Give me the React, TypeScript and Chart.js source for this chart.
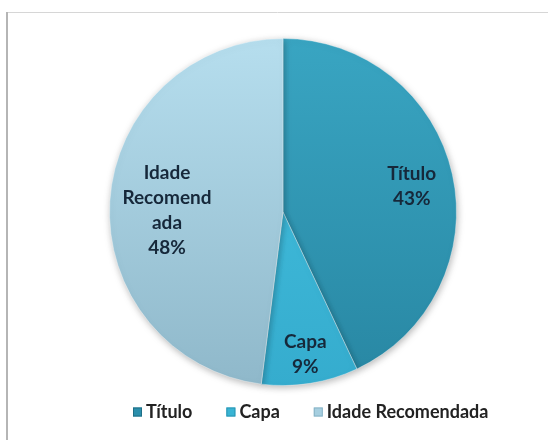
import React, { useEffect, useRef } from "react";
import { Chart, registerables } from "chart.js";

Chart.register(...registerables);

const categories = ["Título", "Capa", "Idade Recomendada"];
const values = [43, 9, 48];
const sliceLabelLines = [["Título"], ["Capa"], ["Idade", "Recomend", "ada"]];
const percentLabels = ["43%", "9%", "48%"];
const legendFill = ["#2b8fac", "#38b4d4", "#a6cfe0"];
const legendStroke = ["#1f6f86", "#2b95b3", "#88b3c6"];

const framePlugin = {
  id: "frame",
  beforeDraw(chart: any) {
    const ctx = chart.ctx;
    ctx.save();
    ctx.fillStyle = "#ffffff";
    ctx.fillRect(0, 0, chart.width, chart.height);
    ctx.lineWidth = 1;
    ctx.strokeStyle = "#d6d6d6";
    ctx.beginPath();
    ctx.moveTo(7, 12.5);
    ctx.lineTo(chart.width, 12.5);
    ctx.stroke();
    ctx.lineWidth = 2;
    ctx.strokeStyle = "#b5b5b5";
    ctx.beginPath();
    ctx.moveTo(7, chart.height);
    ctx.lineTo(7, 12);
    ctx.stroke();
    ctx.restore();
  },
};

const shadowPlugin = {
  id: "pieShadow",
  beforeDatasetsDraw(chart: any) {
    const ctx = chart.ctx;
    ctx.save();
    ctx.shadowColor = "rgba(0,0,0,0.28)";
    ctx.shadowBlur = 7;
    ctx.shadowOffsetX = 1;
    ctx.shadowOffsetY = 2;
  },
  afterDatasetsDraw(chart: any) {
    chart.ctx.restore();
  },
};

const labelPlugin = {
  id: "sliceLabels",
  afterDatasetsDraw(chart: any, _args: any, opts: any) {
    const ctx = chart.ctx;
    const meta = chart.getDatasetMeta(0);
    const fractions: number[] = opts.fractions;
    const offsets: number[] = opts.offsetsY;
    ctx.save();
    ctx.font = "bold 19px Lato";
    ctx.fillStyle = "#16283a";
    ctx.textAlign = "center";
    ctx.textBaseline = "middle";
    meta.data.forEach((arc: any, i: number) => {
      const p = arc.getProps(["x", "y", "startAngle", "endAngle", "outerRadius"], true);
      const mid = (p.startAngle + p.endAngle) / 2;
      const r = p.outerRadius * fractions[i];
      const cx = p.x + Math.cos(mid) * r;
      const cy = p.y + Math.sin(mid) * r + offsets[i];
      const lines = [...sliceLabelLines[i], percentLabels[i]];
      const lh = 25;
      const y0 = cy - ((lines.length - 1) * lh) / 2;
      lines.forEach((t, k) => ctx.fillText(t, cx, y0 + k * lh));
    });
    ctx.restore();
  },
};

const legendPlugin = {
  id: "customLegend",
  afterDraw(chart: any, _args: any, opts: any) {
    const ctx = chart.ctx;
    ctx.save();
    ctx.font = "bold 18px Lato";
    ctx.textBaseline = "middle";
    ctx.textAlign = "left";
    let x = opts.startX;
    const y = opts.y;
    const box = 9;
    chart.data.labels.forEach((t: string, i: number) => {
      ctx.fillStyle = legendFill[i];
      ctx.strokeStyle = legendStroke[i];
      ctx.lineWidth = 1;
      ctx.fillRect(x, y - box / 2, box, box);
      ctx.strokeRect(x + 0.5, y - box / 2 + 0.5, box - 1, box - 1);
      x += box + 4;
      ctx.fillStyle = "#222222";
      ctx.fillText(t, x, y);
      x += ctx.measureText(t).width + opts.gap;
    });
    ctx.restore();
  },
};

function makeGradient(chart: any, top: string, bottom: string) {
  const area = chart.chartArea;
  if (!area) return top;
  const g = chart.ctx.createLinearGradient(0, area.top, 0, area.bottom);
  g.addColorStop(0, top);
  g.addColorStop(1, bottom);
  return g;
}

export default function App() {
  const ref = useRef<HTMLCanvasElement>(null);
  useEffect(() => {
    if (!ref.current) return;
    const chart = new Chart(ref.current, {
      type: "pie",
      data: {
        labels: categories,
        datasets: [
          {
            data: values,
            backgroundColor: (c: any) => {
              const ch = c.chart;
              const i = c.dataIndex;
              if (i === 0) return makeGradient(ch, "#39a5c2", "#2887a3");
              if (i === 1) return makeGradient(ch, "#45c2e0", "#35acce");
              return makeGradient(ch, "#b6deee", "#8fb8ca");
            },
            borderColor: "rgba(255,255,255,0.35)",
            borderWidth: 1,
          },
        ],
      },
      options: {
        responsive: false,
        animation: false,
        layout: { padding: { left: 18, right: 0, top: 38, bottom: 54 } },
        plugins: {
          tooltip: { enabled: false },
          legend: { display: false },
          sliceLabels: { fractions: [0.76, 0.82, 0.67], offsetsY: [3, 2, 6] },
          customLegend: { startX: 133, y: 412, gap: 34 },
        } as any,
      },
      plugins: [framePlugin, shadowPlugin, labelPlugin, legendPlugin],
    });
    return () => chart.destroy();
  }, []);
  return (
    <div style={{ position: "absolute", left: 0, top: 0, width: 548, height: 440 }}>
      <canvas ref={ref} width={548} height={440} style={{ display: "block" }} />
    </div>
  );
}
